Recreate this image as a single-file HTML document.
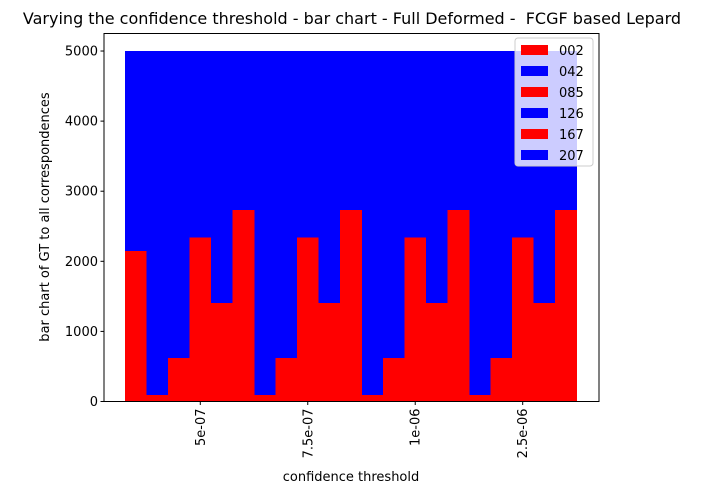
<!DOCTYPE html>
<html><head><meta charset="utf-8"><style>
body{margin:0;background:#fff;}
svg{display:block;font-family:"DejaVu Sans","Liberation Sans",sans-serif;}
#plot rect{shape-rendering:crispEdges;}
</style></head><body>
<svg id="c" width="702" height="494" viewBox="0 0 702 494">
<text x="352" y="24" font-size="16" text-anchor="middle" style="white-space:pre">Varying the confidence threshold - bar chart - Full Deformed -  FCGF based Lepard</text>
<g id="plot"></g>
<g id="axes"></g>
<text x="351" y="481" font-size="13" text-anchor="middle">confidence threshold</text>
<text transform="translate(49,217) rotate(-90)" font-size="13" text-anchor="middle">bar chart of GT to all correspondences</text>
<g id="legend"></g>
</svg>
<script>
const categories = ["5e-07","7.5e-07","1e-06","2.5e-06"];
const seriesNames = ["002","042","085","126","167","207"];
const gtValues = [2147, 93, 620, 2342, 1405, 2732];
const totalValues = [5000, 5000, 5000, 5000, 5000, 5000];
const yTicks = [0,1000,2000,3000,4000,5000];

const NS="http://www.w3.org/2000/svg";
const L=104,R=599,T=33.5,B=401.5;
const barW=0.2;
const xmin=-0.896,xmax=3.71,ymax=5250;
const sx=v=>L+(v-xmin)/(xmax-xmin)*(R-L);
const sy=v=>B-v/ymax*(B-T);
function mk(tag,attrs,parent){const e=document.createElementNS(NS,tag);for(const k in attrs)e.setAttribute(k,attrs[k]);parent.appendChild(e);return e;}
const plot=document.getElementById('plot'),axes=document.getElementById('axes'),leg=document.getElementById('legend');

seriesNames.forEach((s,i)=>{
  categories.forEach((c,j)=>{
    const xc=j+(i-3)*barW;
    const x0=sx(xc-barW/2),x1=sx(xc+barW/2);
    const r=mk('rect',{x:x0,y:sy(gtValues[i]),width:x1-x0+0.5,height:sy(0)-sy(gtValues[i]),fill:'#ff0000'},plot);
    
    
    const b=mk('rect',{x:x0,y:sy(totalValues[i]),width:x1-x0+0.5,height:sy(gtValues[i])-sy(totalValues[i]),fill:'#0000ff'},plot);
    
    
  });
});

const frame=mk('rect',{x:L,y:T,width:R-L,height:B-T,fill:'none',stroke:'#000','stroke-width':1},axes);


yTicks.forEach(v=>{
  const y=sy(v);
  mk('line',{x1:L-3.5,x2:L,y1:y,y2:y,stroke:'#000'},axes);
  const t=mk('text',{x:L-6,y:y+4.5,'font-size':13,'text-anchor':'end'},axes);
  t.textContent=v;
  
  
});
categories.forEach((c,j)=>{
  const x=sx(j);
  mk('line',{x1:x,x2:x,y1:B,y2:B+3.5,stroke:'#000'},axes);
  const t=mk('text',{transform:`translate(${x+4.5},${B+7}) rotate(-90)`,'font-size':13,'text-anchor':'end'},axes);
  t.textContent=c;
  
  
});

const lb=mk('rect',{x:515,y:38,width:78,height:128,fill:'#fff','fill-opacity':0.8,stroke:'#ccc',rx:3},leg);


seriesNames.forEach((s,i)=>{
  const y=50+i*21;
  const sw=mk('rect',{x:521,y:y-5,width:27,height:10,fill:i%2?'#0000ff':'#ff0000'},leg);
  
  
  const t=mk('text',{x:559,y:y+5,'font-size':13},leg);
  t.textContent=s;
  
  
});
</script>
</body></html>
